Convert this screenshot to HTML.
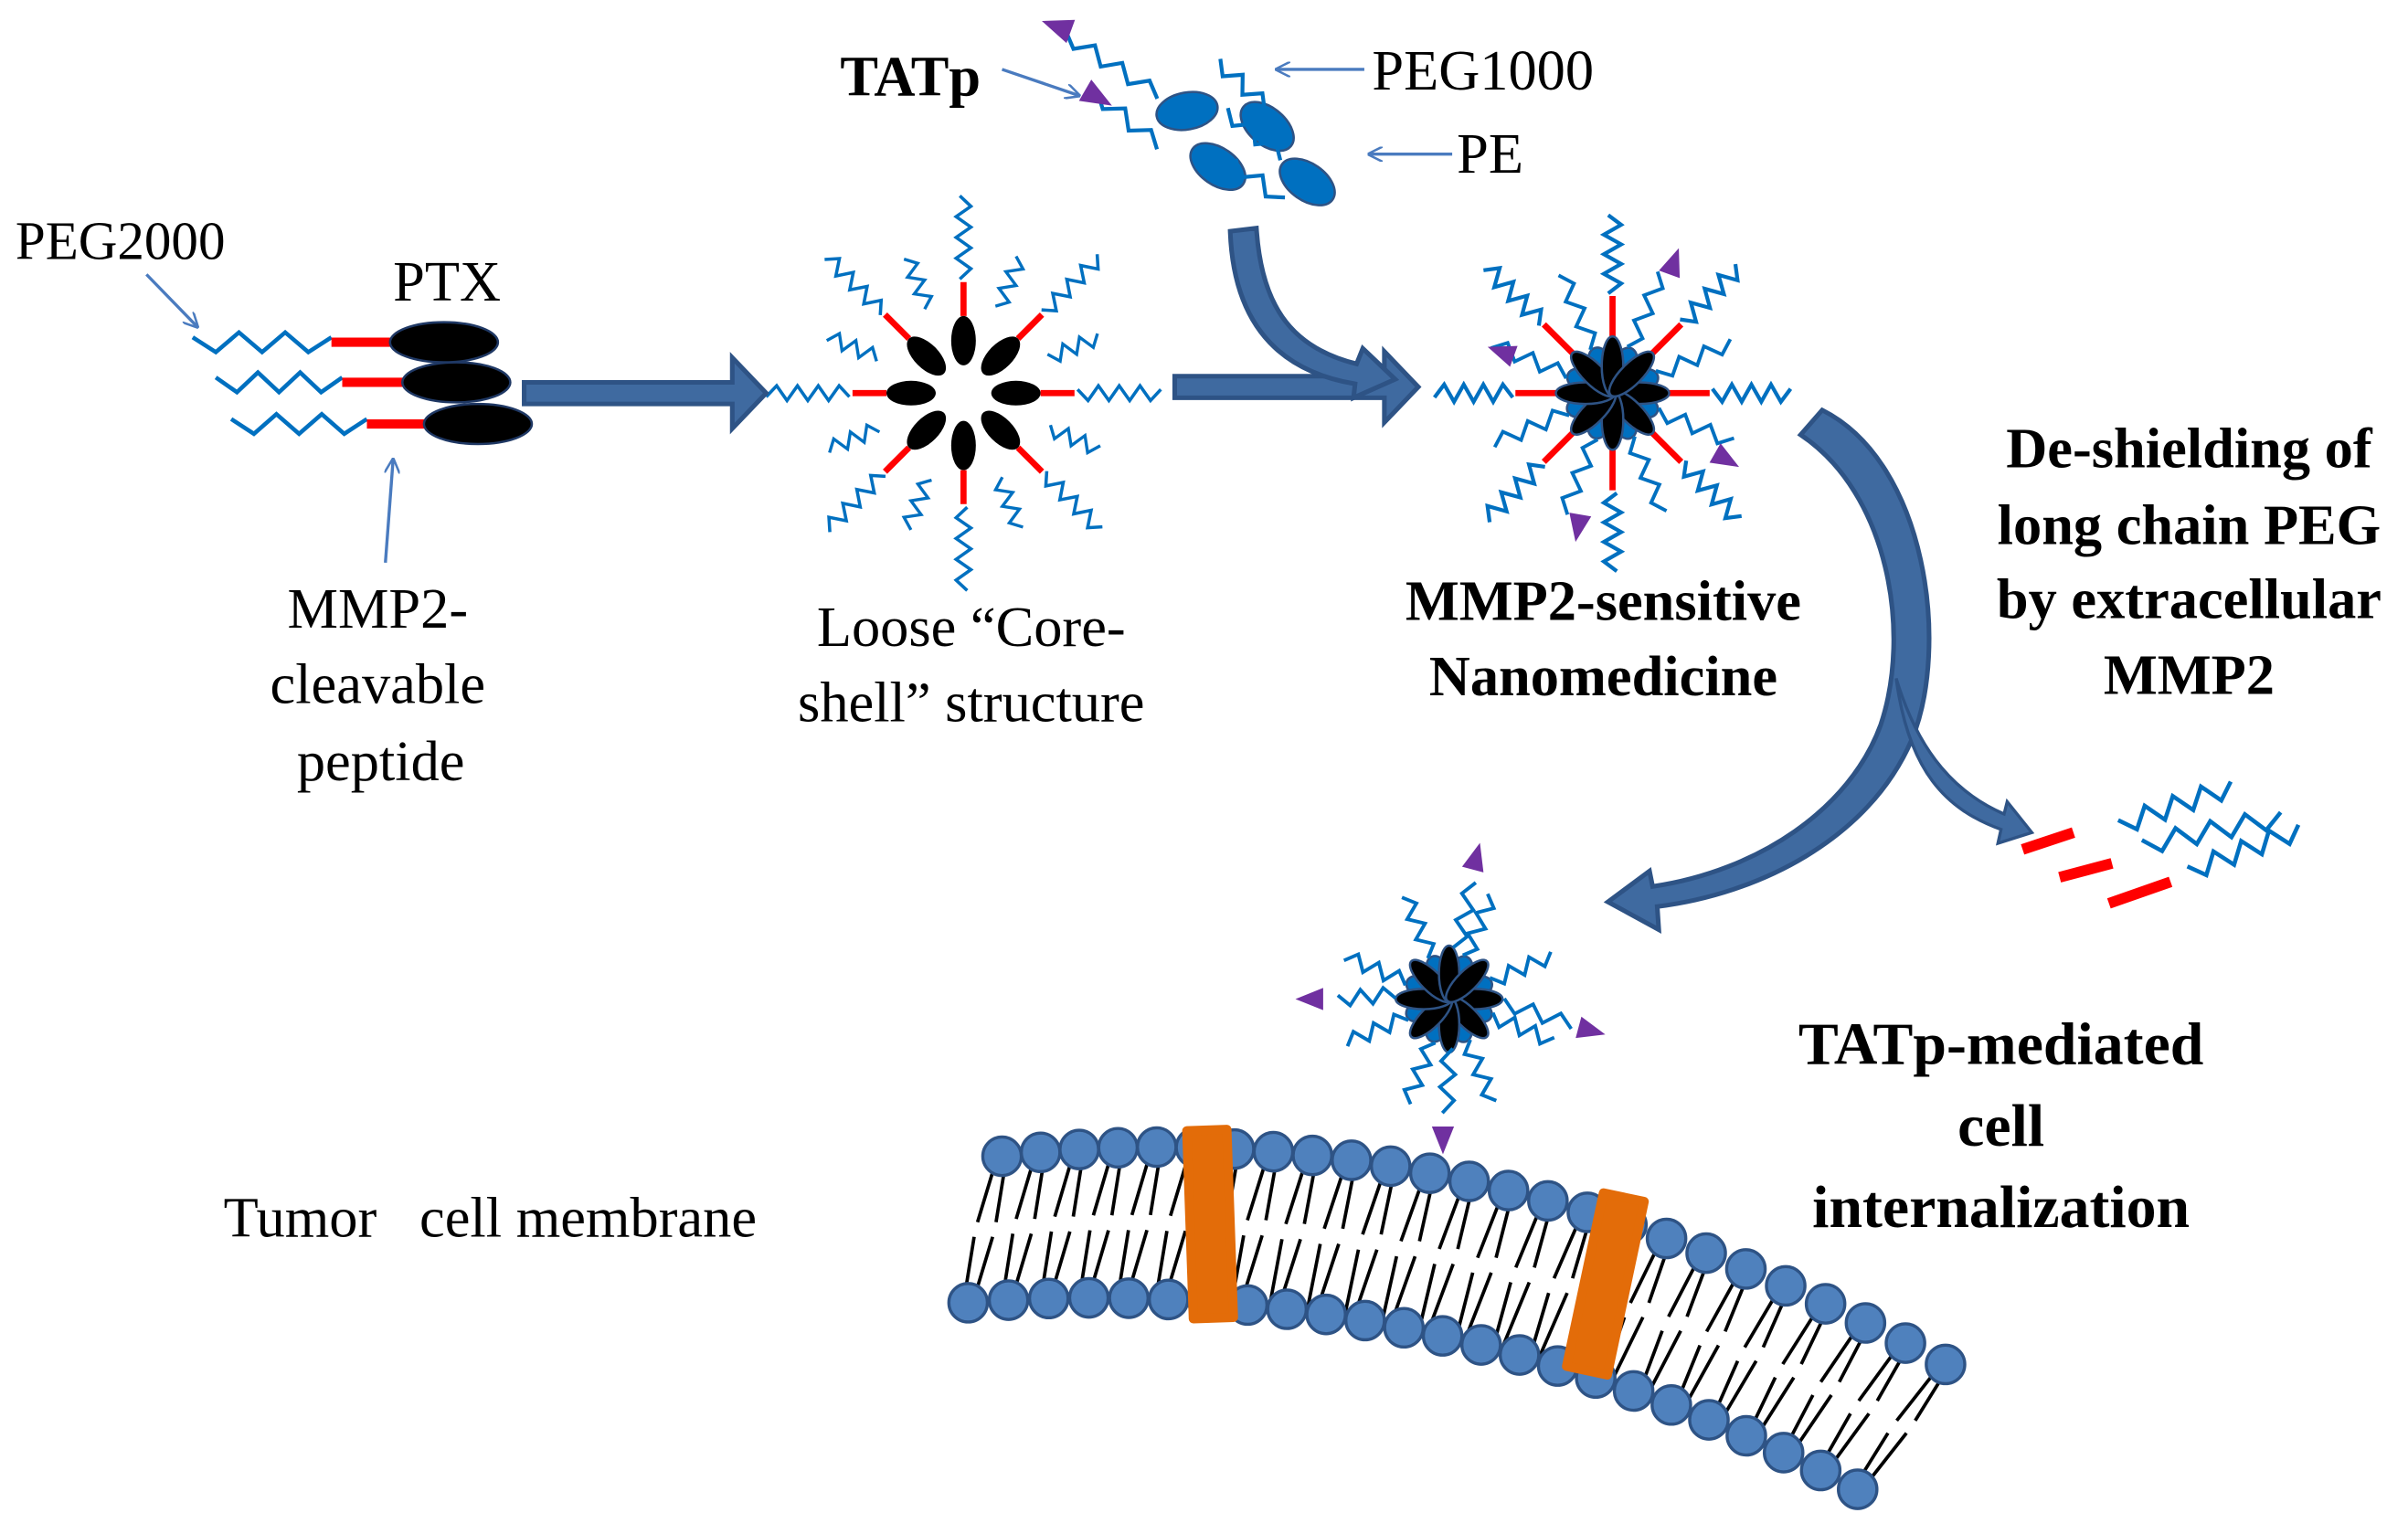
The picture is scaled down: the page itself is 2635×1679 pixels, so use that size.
<!DOCTYPE html>
<html><head><meta charset="utf-8"><style>
html,body{margin:0;padding:0;background:#fff}
svg{display:block}
text{font-family:"Liberation Serif",serif;fill:#000}
.b{font-weight:bold}
</style></head><body>
<svg id="s" width="2635" height="1679" viewBox="0 0 1562 995" preserveAspectRatio="none" xmlns="http://www.w3.org/2000/svg">
<defs>
<marker id="ah" markerWidth="10" markerHeight="10" refX="9" refY="5" orient="auto" markerUnits="userSpaceOnUse"><path d="M0,0 L10,5 L0,10" fill="none" stroke="#4a7bbf" stroke-width="1.5"/></marker>
</defs>
<g id="mem"></g>
<g id="g"></g>
<path d="M340,248 L475,248 L475,232 L497,255 L475,278 L475,262 L340,262Z" fill="#3f6aa0" stroke="#2e5385" stroke-width="3"/>
<path d="M762,244 L898,244 L898,228 L920,251 L898,274 L898,258 L762,258Z" fill="#3f6aa0" stroke="#2e5385" stroke-width="3"/>
<path d="M798,150 L815,148 C818,195 835,225 880,236 L884,226 L905,246 L878,258 L879,249 C825,240 800,205 798,150Z" fill="#3f6aa0" stroke="#2e5385" stroke-width="3"/>
<path d="M1168,282 L1182,266 C1250,300 1265,420 1240,480 C1212,545 1140,580 1075,588 L1076,603 L1043,585 L1070,565 L1072,575 C1140,565 1200,525 1220,470 C1240,410 1225,320 1168,282Z" fill="#3f6aa0" stroke="#2e5385" stroke-width="3"/>
<path d="M1230,440 C1245,490 1270,515 1300,528 L1302,520 L1318,540 L1296,547 L1298,538 C1262,525 1238,500 1230,440Z" fill="#3f6aa0" stroke="#2e5385" stroke-width="2"/>
<text x="10" y="168" font-size="35">PEG2000</text>
<text x="255" y="195" font-size="37">PTX</text>
<text x="245" y="407" font-size="37" text-anchor="middle">MMP2-</text>
<text x="245" y="456" font-size="37" text-anchor="middle">cleavable</text>
<text x="247" y="506" font-size="37" text-anchor="middle">peptide</text>
<text x="630" y="419" font-size="37" text-anchor="middle">Loose “Core-</text>
<text x="630" y="468" font-size="37" text-anchor="middle">shell” structure</text>
<text x="545" y="62" font-size="37" class="b">TATp</text>
<text x="890" y="58" font-size="37">PEG1000</text>
<text x="945" y="112" font-size="37">PE</text>
<text x="1040" y="402" font-size="37" class="b" text-anchor="middle">MMP2-sensitive</text>
<text x="1040" y="451" font-size="37" class="b" text-anchor="middle">Nanomedicine</text>
<text x="1420" y="303" font-size="37" class="b" text-anchor="middle">De-shielding of</text>
<text x="1420" y="353" font-size="37" class="b" text-anchor="middle">long chain PEG</text>
<text x="1420" y="401" font-size="37" class="b" text-anchor="middle">by extracellular</text>
<text x="1420" y="450" font-size="37" class="b" text-anchor="middle">MMP2</text>
<text x="1298" y="690" font-size="39" class="b" text-anchor="middle">TATp-mediated</text>
<text x="1298" y="743" font-size="39" class="b" text-anchor="middle">cell</text>
<text x="1298" y="796" font-size="39" class="b" text-anchor="middle">internalization</text>
<text x="145" y="802" font-size="37">Tumor&#160;&#160; cell membrane</text>
<g stroke="#4a7bbf" stroke-width="2" fill="none" marker-end="url(#ah)">
<line x1="95" y1="178" x2="128" y2="212"/>
<line x1="250" y1="365" x2="255" y2="298"/>
<line x1="650" y1="45" x2="700" y2="62"/>
<line x1="885" y1="45" x2="828" y2="45"/>
<line x1="942" y1="100" x2="888" y2="100"/>
</g>
</svg>
<script>
(function(){
const NS="http://www.w3.org/2000/svg",G=document.getElementById("g"),M=document.getElementById("mem");
function el(t,a,p){const e=document.createElementNS(NS,t);for(const k in a)e.setAttribute(k,a[k]);(p||G).appendChild(e);return e;}
const BL="#0070c0";
function zig(x1,y1,x2,y2,n,amp,w){amp*=1.6;n=Math.max(3,Math.round(n*0.75));const dx=x2-x1,dy=y2-y1,L=Math.hypot(dx,dy),nx=-dy/L,ny=dx/L;let p=[];for(let i=0;i<=n;i++){const t=i/n,s=(i%2?1:-1)*amp*(i==0||i==n?0.5:1);p.push((x1+dx*t+nx*s).toFixed(1)+","+(y1+dy*t+ny*s).toFixed(1));}el("polyline",{points:p.join(" "),fill:"none",stroke:BL,"stroke-width":(w||2.2)+0.5});}
function line(a,b,c,d,col,w){el("line",{x1:a,y1:b,x2:c,y2:d,stroke:col,"stroke-width":w});}
function tri(x,y,ang,s){s=s||9;const a=ang*Math.PI/180;const pts=[[s*1.3,0],[-s*0.7,-s*0.8],[-s*0.7,s*0.8]].map(([u,v])=>(x+u*Math.cos(a)-v*Math.sin(a)).toFixed(1)+","+(y+u*Math.sin(a)+v*Math.cos(a)).toFixed(1));el("polygon",{points:pts.join(" "),fill:"#7030a0"});}
function ell(cx,cy,rx,ry,rot,f,st){el("ellipse",{cx:cx,cy:cy,rx:rx,ry:ry,transform:"rotate("+rot+" "+cx+" "+cy+")",fill:f,stroke:st||"none","stroke-width":1.5});}
[[125,222,215,288],[140,248,222,296],[150,275,238,310]].forEach(([a,y,b,ex])=>{zig(a,y,b,y,8,4);line(b,y,ex-28,y,"#ff0000",6);ell(ex,y,35,13,0,"#000","#1f3864");});
(function(){const cx=625,cy=255;for(let i=0;i<8;i++){const a=i*45*Math.PI/180,c=Math.cos(a),s=Math.sin(a);ell(cx+c*34,cy+s*34,16,8,i*45,"#000");line(cx+c*50,cy+s*50,cx+c*72,cy+s*72,"#ff0000",4);const L=(i%2?125:128);zig(cx+c*74,cy+s*74,cx+c*L,cy+s*L,10,3,1.6);}for(let i=0;i<8;i++){const a=(i*45+22.5)*Math.PI/180;zig(cx+Math.cos(a)*60,cy+Math.sin(a)*60,cx+Math.cos(a)*95,cy+Math.sin(a)*95,8,3,1.5);}})();
function particle(cx,cy,R,red){for(let i=0;i<8;i++){const a=i*45*Math.PI/180;ell(cx+Math.cos(a+0.4)*R*0.55,cy+Math.sin(a+0.4)*R*0.55,R*0.35,R*0.22,i*45+23,BL,"#2e5385");}
for(let i=0;i<8;i++){const a=i*45*Math.PI/180,c=Math.cos(a),s=Math.sin(a);if(red){line(cx+c*R*0.95,cy+s*R*0.95,cx+c*R*1.8,cy+s*R*1.8,"#ff0000",4);zig(cx+c*R*1.85,cy+s*R*1.85,cx+c*R*3.3,cy+s*R*3.3,10,3.5,2);}}
for(let i=0;i<8;i++){const a=(i*45+22)*Math.PI/180;zig(cx+Math.cos(a)*R*0.9,cy+Math.sin(a)*R*0.9,cx+Math.cos(a)*R*(red?2.4:2.2),cy+Math.sin(a)*R*(red?2.4:2.2),8,3,1.8);}
for(let i=0;i<8;i++){ell(cx+Math.cos(i*45*Math.PI/180)*R*0.5,cy+Math.sin(i*45*Math.PI/180)*R*0.5,R*0.55,R*0.2,i*45,"#000","#2e5385");}}
particle(1046,255,35,true);
tri(1085,172,-70,9);tri(976,229,200,9);tri(1118,297,30,9);tri(1024,340,100,9);
particle(940,648,33,false);
zig(940,680,938,722,6,3,1.8);zig(975,650,1020,665,6,3,1.8);zig(905,645,868,648,6,3,1.8);zig(945,615,955,572,6,3,1.8);
tri(957,558,-75,9);tri(852,648,180,9);tri(1030,668,15,9);tri(936,737,90,9);
[[770,72,-25],[790,108,20],[822,82,25],[848,118,20]].forEach(([x,y,r])=>ell(x,y,20,12,r+15,BL,"#2e5385"));
zig(690,22,752,62,9,3,2);zig(710,60,752,95,7,3,2);zig(790,40,822,70,6,3,2);zig(795,72,832,102,6,3,2);zig(800,105,832,130,5,3,2);
tri(688,18,200,10);tri(710,62,30,10);
[[1312,551,1345,540,1375,535,1448,510],[1336,569,1370,560,1390,548,1480,530],[1368,586,1408,572,1420,565,1492,538]].forEach(([a,b,c,d,e,f,g,h])=>{line(a,b,c,d,"#ff0000",7);zig(e,f,g,h,10,4,2.2);});
function bez(P0,P1,P2,t){const u=1-t;return[u*u*P0[0]+2*u*t*P1[0]+t*t*P2[0],u*u*P0[1]+2*u*t*P1[1]+t*t*P2[1]];}
const T0=[650,750],T1=[950,715],T2=[1262,885],B0=[628,845],B1=[930,822],B2=[1205,966];
let tp=[],bt=[];
for(let i=0;i<=24;i++)tp.push(bez(T0,T1,T2,i/24));
for(let i=0;i<=23;i++)bt.push(bez(B0,B1,B2,i/23));
for(let i=0;i<tp.length;i++){const x=tp[i][0],y=tp[i][1];const b=bez(B0,B1,B2,Math.min(i/24,1));const dx=b[0]-x,dy=b[1]-y;
el("line",{x1:x-3,y1:y,x2:x-6+dx*0.45,y2:y+dy*0.45,stroke:"#000","stroke-width":2.2},M);el("line",{x1:x+3,y1:y,x2:x+6+dx*0.45,y2:y+dy*0.45,stroke:"#000","stroke-width":2.2},M);
el("line",{x1:b[0]-3,y1:b[1],x2:b[0]-6-dx*0.45,y2:b[1]-dy*0.45,stroke:"#000","stroke-width":2.2},M);el("line",{x1:b[0]+3,y1:b[1],x2:b[0]+6-dx*0.45,y2:b[1]-dy*0.45,stroke:"#000","stroke-width":2.2},M);}
tp.forEach(p=>el("circle",{cx:p[0],cy:p[1],r:12.5,fill:"#4f81bd",stroke:"#2e5385","stroke-width":2},M));
bt.forEach(p=>el("circle",{cx:p[0],cy:p[1],r:12.5,fill:"#4f81bd",stroke:"#2e5385","stroke-width":2},M));
el("path",{d:"M772,733 L798,733 L798,855 L772,855Z",fill:"#e36c09",stroke:"#e36c09","stroke-width":6,"stroke-linejoin":"round",transform:"rotate(-2 785 795)"},M);
el("path",{d:"M1028,775 L1055,775 L1055,890 L1028,890Z",fill:"#e36c09",stroke:"#e36c09","stroke-width":6,"stroke-linejoin":"round",transform:"rotate(12 1040 832)"},M);
})();
</script>
</body></html>
